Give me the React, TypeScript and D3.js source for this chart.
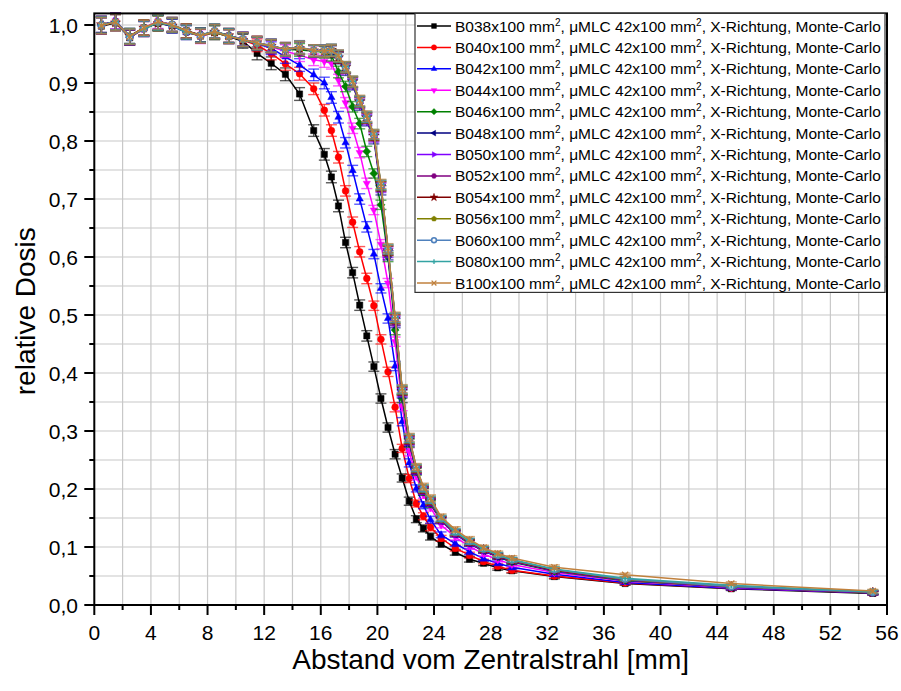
import React from "react";
import * as d3 from "d3";

// ---------- data ----------
const X = [0.5, 1.5, 2.5, 3.5, 4.5, 5.5, 6.5, 7.5, 8.5, 9.5, 10.5,
  11.5, 12.5, 13.5, 14.5, 15.5, 16.25, 16.75, 17.25, 17.75, 18.25, 18.75, 19.25, 19.75, 20.25, 20.75,
  21.25, 21.75, 22.25, 22.75, 23.25, 23.75,
  24.5, 25.5, 26.5, 27.5, 28.5, 29.5, 32.5, 37.5, 45, 55];

const ERR = [0.014, 0.014, 0.013, 0.013, 0.013, 0.012, 0.012, 0.012, 0.012, 0.012, 0.012,
  0.011, 0.011, 0.011, 0.011, 0.010, 0.010, 0.010, 0.010, 0.009, 0.009, 0.009, 0.009, 0.008, 0.008, 0.008,
  0.008, 0.007, 0.007, 0.006, 0.006, 0.006,
  0.005, 0.005, 0.005, 0.004, 0.004, 0.004, 0.004, 0.003, 0.003, 0.003];

const B038 = [0.998, 1.004, 0.978, 0.995, 1.003, 0.999, 0.990, 0.981, 0.987, 0.980, 0.972,
  0.951, 0.934, 0.915, 0.881, 0.818, 0.777, 0.738, 0.688, 0.625, 0.573, 0.517, 0.464, 0.411, 0.356, 0.306,
  0.260, 0.219, 0.179, 0.148, 0.132, 0.118, 0.105, 0.091, 0.079, 0.072, 0.064, 0.059, 0.049, 0.037, 0.028, 0.020];
const B040 = [1.000, 1.006, 0.979, 0.993, 1.005, 1.001, 0.988, 0.983, 0.988, 0.982, 0.974,
  0.965, 0.951, 0.933, 0.916, 0.890, 0.853, 0.818, 0.772, 0.714, 0.660, 0.609, 0.563, 0.516, 0.458, 0.402,
  0.341, 0.270, 0.218, 0.175, 0.153, 0.134, 0.115, 0.098, 0.086, 0.075, 0.067, 0.060, 0.050, 0.038, 0.029, 0.021];
const B042 = [1.001, 1.005, 0.981, 0.994, 1.004, 0.998, 0.987, 0.982, 0.989, 0.980, 0.975,
  0.968, 0.960, 0.945, 0.931, 0.914, 0.900, 0.875, 0.841, 0.797, 0.749, 0.700, 0.652, 0.605, 0.546, 0.494,
  0.412, 0.316, 0.245, 0.201, 0.172, 0.147, 0.121, 0.106, 0.092, 0.080, 0.072, 0.065, 0.053, 0.039, 0.029, 0.021];
const B044 = [0.999, 1.007, 0.980, 0.996, 1.006, 1.000, 0.989, 0.980, 0.988, 0.981, 0.976,
  0.968, 0.962, 0.955, 0.948, 0.940, 0.937, 0.934, 0.905, 0.866, 0.822, 0.780, 0.727, 0.681, 0.622, 0.555,
  0.454, 0.342, 0.264, 0.222, 0.190, 0.168, 0.138, 0.117, 0.101, 0.088, 0.078, 0.070, 0.056, 0.041, 0.030, 0.021];
const B046 = [1.000, 1.006, 0.981, 0.994, 1.003, 1.001, 0.990, 0.982, 0.990, 0.981, 0.975,
  0.969, 0.963, 0.958, 0.957, 0.955, 0.953, 0.948, 0.919, 0.894, 0.859, 0.830, 0.782, 0.744, 0.690, 0.600,
  0.474, 0.356, 0.279, 0.230, 0.195, 0.174, 0.146, 0.124, 0.107, 0.094, 0.083, 0.074, 0.058, 0.042, 0.031, 0.021];
const B048 = [1.001, 1.005, 0.979, 0.995, 1.004, 0.999, 0.988, 0.983, 0.987, 0.982, 0.974,
  0.968, 0.964, 0.958, 0.960, 0.955, 0.955, 0.954, 0.943, 0.922, 0.897, 0.862, 0.835, 0.803, 0.715, 0.603,
  0.486, 0.364, 0.281, 0.231, 0.196, 0.176, 0.145, 0.122, 0.106, 0.093, 0.083, 0.075, 0.059, 0.043, 0.031, 0.021];
const B050 = [0.999, 1.007, 0.980, 0.993, 1.007, 1.000, 0.989, 0.981, 0.988, 0.980, 0.975,
  0.969, 0.963, 0.959, 0.961, 0.956, 0.954, 0.956, 0.945, 0.925, 0.899, 0.865, 0.837, 0.806, 0.719, 0.607,
  0.489, 0.366, 0.283, 0.232, 0.197, 0.177, 0.146, 0.123, 0.107, 0.094, 0.084, 0.076, 0.059, 0.043, 0.031, 0.021];
const B052 = [1.000, 1.006, 0.978, 0.994, 1.005, 1.001, 0.987, 0.982, 0.989, 0.981, 0.976,
  0.967, 0.965, 0.957, 0.962, 0.954, 0.956, 0.955, 0.946, 0.926, 0.901, 0.866, 0.839, 0.808, 0.721, 0.610,
  0.491, 0.368, 0.284, 0.233, 0.198, 0.178, 0.147, 0.124, 0.108, 0.095, 0.085, 0.076, 0.060, 0.044, 0.032, 0.021];
const B054 = [1.001, 1.004, 0.981, 0.995, 1.003, 0.999, 0.990, 0.983, 0.988, 0.982, 0.974,
  0.970, 0.964, 0.958, 0.960, 0.956, 0.955, 0.957, 0.944, 0.927, 0.902, 0.868, 0.840, 0.809, 0.722, 0.611,
  0.493, 0.369, 0.285, 0.234, 0.199, 0.179, 0.148, 0.125, 0.109, 0.096, 0.085, 0.077, 0.060, 0.044, 0.032, 0.022];
const B056 = [0.999, 1.006, 0.980, 0.996, 1.004, 1.000, 0.988, 0.981, 0.987, 0.980, 0.975,
  0.968, 0.963, 0.959, 0.961, 0.955, 0.954, 0.955, 0.946, 0.926, 0.901, 0.867, 0.840, 0.810, 0.723, 0.612,
  0.494, 0.370, 0.286, 0.235, 0.200, 0.180, 0.148, 0.125, 0.109, 0.096, 0.086, 0.077, 0.061, 0.044, 0.032, 0.022];
const B060 = [1.000, 1.005, 0.979, 0.994, 1.005, 1.001, 0.989, 0.982, 0.990, 0.981, 0.976,
  0.969, 0.965, 0.958, 0.962, 0.956, 0.956, 0.956, 0.947, 0.927, 0.902, 0.868, 0.841, 0.811, 0.724, 0.613,
  0.495, 0.371, 0.287, 0.236, 0.201, 0.181, 0.149, 0.126, 0.110, 0.097, 0.086, 0.078, 0.061, 0.045, 0.032, 0.022];
const B080 = [1.000, 1.006, 0.981, 0.993, 1.004, 0.999, 0.987, 0.983, 0.988, 0.982, 0.974,
  0.968, 0.964, 0.957, 0.961, 0.955, 0.955, 0.957, 0.946, 0.928, 0.903, 0.869, 0.842, 0.812, 0.725, 0.614,
  0.496, 0.372, 0.288, 0.237, 0.202, 0.182, 0.150, 0.127, 0.110, 0.097, 0.087, 0.078, 0.062, 0.046, 0.034, 0.023];
const B100 = [0.999, 1.005, 0.980, 0.995, 1.006, 1.000, 0.990, 0.981, 0.989, 0.980, 0.975,
  0.969, 0.964, 0.958, 0.961, 0.956, 0.955, 0.956, 0.947, 0.928, 0.903, 0.870, 0.843, 0.812, 0.726, 0.615,
  0.497, 0.373, 0.289, 0.238, 0.204, 0.184, 0.152, 0.130, 0.113, 0.099, 0.089, 0.081, 0.065, 0.052, 0.037, 0.024];

const SERIES_VALUES = [B038, B040, B042, B044, B046, B048, B050, B052, B054, B056, B060, B080, B100];
const SERIES_NAMES = ["B038", "B040", "B042", "B044", "B046", "B048", "B050", "B052", "B054", "B056", "B060", "B080", "B100"];
const COLORS = ["#000000", "#FF0000", "#0000FF", "#FF00FF", "#008000", "#000080", "#8000FF", "#800080",
  "#800000", "#808000", "#4F81BD", "#33A3A3", "#C0803C"];
const MARKERS = ["square", "circle", "up", "down", "diamond", "left", "right", "hexagon", "star", "pentagon",
  "ring", "plus", "cross"];

const X_TICKS = [0, 4, 8, 12, 16, 20, 24, 28, 32, 36, 40, 44, 48, 52, 56];
const Y_TICKS = [0, 0.1, 0.2, 0.3, 0.4, 0.5, 0.6, 0.7, 0.8, 0.9, 1.0];
const X_TITLE = "Abstand vom Zentralstrahl [mm]";
const Y_TITLE = "relative Dosis";

// ---------- layout ----------
const W = 901, H = 691;
const L = 94.3, R = 887, T = 13.4, B = 605;
const FONT = "'Liberation Sans', Arial, sans-serif";

const x = d3.scaleLinear().domain([0, 56]).range([L, R]);
const y = d3.scaleLinear().domain([0, 1.02]).range([B, T]);

function poly(pts: number[][]) {
  return "M" + pts.map(p => p[0].toFixed(2) + "," + p[1].toFixed(2)).join("L") + "Z";
}
function regular(n: number, r: number, rot: number) {
  const pts: number[][] = [];
  for (let i = 0; i < n; i++) {
    const a = rot + (i * 2 * Math.PI) / n;
    pts.push([r * Math.cos(a), r * Math.sin(a)]);
  }
  return poly(pts);
}
function markerPath(kind: string, r: number): { d: string; stroke: boolean } {
  switch (kind) {
    case "square": return { d: poly([[-r, -r], [r, -r], [r, r], [-r, r]]), stroke: false };
    case "circle": return { d: d3.symbol(d3.symbolCircle, Math.PI * r * r * 1.2)() as string, stroke: false };
    case "ring": return { d: d3.symbol(d3.symbolCircle, Math.PI * r * r)() as string, stroke: false };
    case "up": return { d: regular(3, r * 1.35, -Math.PI / 2), stroke: false };
    case "down": return { d: regular(3, r * 1.35, Math.PI / 2), stroke: false };
    case "left": return { d: regular(3, r * 1.35, Math.PI), stroke: false };
    case "right": return { d: regular(3, r * 1.35, 0), stroke: false };
    case "diamond": return { d: regular(4, r * 1.3, 0), stroke: false };
    case "hexagon": return { d: regular(6, r * 1.1, 0), stroke: false };
    case "pentagon": return { d: regular(5, r * 1.15, -Math.PI / 2), stroke: false };
    case "star": return { d: d3.symbol(d3.symbolStar, r * r * 3.2)() as string, stroke: false };
    case "plus": return { d: `M${-r},0H${r}M0,${-r}V${r}`, stroke: true };
    case "cross": return { d: `M${-r},${-r}L${r},${r}M${r},${-r}L${-r},${r}`, stroke: true };
  }
  return { d: "", stroke: false };
}

function Marker({ kind, color, cx, cy, r }: { kind: string; color: string; cx: number; cy: number; r: number }) {
  const m = markerPath(kind, r);
  if (m.stroke) {
    return <path d={m.d} transform={`translate(${cx},${cy})`} fill="none" stroke={color} strokeWidth={1.3} />;
  }
  if (kind === "ring") {
    return <path d={m.d} transform={`translate(${cx},${cy})`} fill="#ffffff" stroke={color} strokeWidth={1.6} />;
  }
  return <path d={m.d} transform={`translate(${cx},${cy})`} fill={color} stroke={color} strokeWidth={0.5} />;
}

const fmtY = (v: number) => d3.format(".1f")(v).replace(".", ",");

export default function App() {
  const line = d3.line<number>().x((_, i) => x(X[i])).y(v => y(v));
  const xMinor = d3.range(0, 57, 2);
  const yMinor = d3.range(0, 21).map(i => i * 0.05);
  const legX = 415, legY = T, legW = 470, legH = 279;
  const rowY = (i: number) => 26 + i * 21.42;

  return (
    <svg width={W} height={H} style={{ position: "absolute", left: 0, top: 0, background: "#fff" }}
      fontFamily={FONT}>
      <rect x={0} y={0} width={W} height={H} fill="#fff" />
      {/* grid */}
      <g stroke="#c8c8c8" strokeWidth={1.2}>
        {xMinor.filter(v => v > 0 && v < 56).map(v => (
          <line key={"gx" + v} x1={x(v)} x2={x(v)} y1={T} y2={B} />
        ))}
        {yMinor.filter(v => v > 0.001).map(v => (
          <line key={"gy" + v} x1={L} x2={R} y1={y(v)} y2={y(v)} />
        ))}
      </g>

      {/* series */}
      {SERIES_VALUES.map((vals, s) => (
        <g key={"s" + s}>
          <g stroke={COLORS[s]} strokeOpacity={0.65} strokeWidth={1.4}>
            {vals.map((v, i) => {
              const cx = x(X[i]);
              const y1 = y(v + ERR[i]), y2 = y(v - ERR[i]);
              return (
                <g key={i}>
                  <line x1={cx} x2={cx} y1={y1} y2={y2} />
                  <line x1={cx - 5.5} x2={cx + 5.5} y1={y1} y2={y1} />
                  <line x1={cx - 5.5} x2={cx + 5.5} y1={y2} y2={y2} />
                </g>
              );
            })}
          </g>
          <path d={line(vals) as string} fill="none" stroke={COLORS[s]} strokeWidth={1.5} />
          {vals.map((v, i) => (
            <Marker key={"m" + i} kind={MARKERS[s]} color={COLORS[s]} cx={x(X[i])} cy={y(v)} r={3.1} />
          ))}
        </g>
      ))}

      {/* frame */}
      <rect x={L} y={T} width={R - L} height={B - T} fill="none" stroke="#000" strokeWidth={2} />

      {/* ticks */}
      <g stroke="#000" strokeWidth={2}>
        {xMinor.map(v => (
          <line key={"xt" + v} x1={x(v)} x2={x(v)} y1={B} y2={B + (v % 4 === 0 ? 10 : 5)} />
        ))}
        {yMinor.map((v, i) => (
          <line key={"yt" + i} x1={L} x2={L - (i % 2 === 0 ? 10 : 5)} y1={y(v)} y2={y(v)} />
        ))}
      </g>
      <g fontSize={21} fill="#000">
        {X_TICKS.map(v => (
          <text key={"xl" + v} x={x(v)} y={640} textAnchor="middle">{v}</text>
        ))}
        {Y_TICKS.map(v => (
          <text key={"yl" + v} x={78} y={y(v)} dy="0.36em" textAnchor="end">{fmtY(v)}</text>
        ))}
      </g>

      {/* titles */}
      <text x={(L + R) / 2} y={669} fontSize={28} textAnchor="middle" fill="#000">{X_TITLE}</text>
      <text transform={`translate(35,${(T + B) / 2 + 2}) rotate(-90)`} fontSize={28} textAnchor="middle" fill="#000">{Y_TITLE}</text>

      {/* legend */}
      <rect x={legX} y={legY} width={legW} height={legH} fill="#fff" stroke="#333" strokeWidth={1.2} />
      {SERIES_NAMES.map((name, i) => {
        const cy = rowY(i);
        return (
          <g key={"lg" + i}>
            <line x1={legX + 2} x2={legX + 36} y1={cy} y2={cy} stroke={COLORS[i]} strokeWidth={1.5} />
            <Marker kind={MARKERS[i]} color={COLORS[i]} cx={legX + 19} cy={cy} r={2.4} />
            <text x={455} y={cy + 5.5} fontSize={15.5} fill="#000">
              {name}x100 mm<tspan fontSize={10} dy={-6}>2</tspan>
              <tspan dy={6}>, μMLC 42x100 mm</tspan><tspan fontSize={10} dy={-6}>2</tspan>
              <tspan dy={6}>, X-Richtung, Monte-Carlo</tspan>
            </text>
          </g>
        );
      })}
    </svg>
  );
}
